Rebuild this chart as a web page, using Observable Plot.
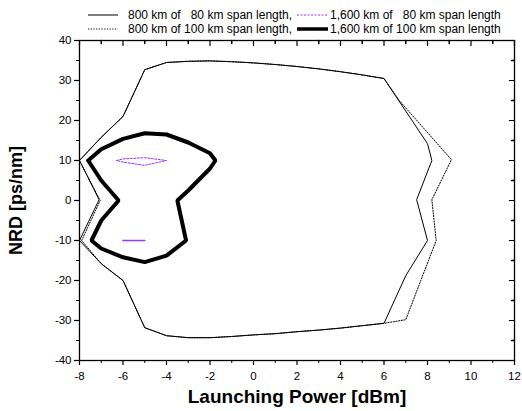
<!DOCTYPE html>
<html>
<head>
<meta charset="utf-8">
<script src="https://cdn.jsdelivr.net/npm/d3@7"></script>
<script src="https://cdn.jsdelivr.net/npm/@observablehq/plot@0.6"></script>
<style>
  html, body { margin: 0; padding: 0; background: #fff; }
  body { width: 522px; height: 411px; overflow: hidden; font-family: "Liberation Sans", Arial, sans-serif; }
  #legend { position: relative; width: 522px; height: 32px; font-size: 12px; color: #000; }
  .item { position: absolute; display: flex; align-items: center; white-space: pre; line-height: 14px; }
</style>
</head>
<body>
<div id="legend"></div>
<div id="chart"></div>
<script>
// ---- data ----
// 800 km of 80 km span length (thin solid)
const s800_80_x = [-8, -7, -6, -5, -4, -3, -2, -1, 0, 1, 2, 3, 4, 5, 6, 8, 8.2, 7.5, 8, 7, 6, 5, 4, 3, 2, 1, 0, -1, -2, -3, -4, -5, -6, -7, -8, -7.1, -8];
const s800_80_y = [10, 15.8, 21, 32.7, 34.5, 34.8, 34.9, 34.7, 34.4, 34, 33.5, 32.9, 32.2, 31.4, 30.5, 14.2, 10, 0.2, -10, -18.8, -30.7, -31.3, -31.9, -32.4, -32.8, -33.3, -33.6, -34, -34.3, -34.3, -33.8, -31.8, -20, -15.8, -10, 0.2, 10];
// 800 km of 100 km span length (thin dotted)
const s800_100_x = [-8, -7, -6, -5, -4, -3, -2, -1, 0, 1, 2, 3, 4, 5, 6, 6.7, 9.1, 8.2, 8.4, 7, 6, 5, 4, 3, 2, 1, 0, -1, -2, -3, -4, -5, -6, -7, -7.9, -7.05, -8];
const s800_100_y = [10, 15.8, 21, 32.7, 34.5, 34.8, 34.9, 34.7, 34.4, 34, 33.5, 32.9, 32.2, 31.4, 30.5, 25, 10.2, 0.2, -10, -29.8, -30.7, -31.3, -31.9, -32.4, -32.8, -33.3, -33.6, -34, -34.3, -34.3, -33.8, -31.8, -20, -15.8, -10, 0, 10];
// 1,600 km of 80 km span length (purple dashed) - two small islands
const s1600_80a_x = [-6.3, -6, -5, -4, -5, -6, -6.3];
const s1600_80a_y = [10, 10.4, 10.7, 10, 8.8, 9.6, 10];
const s1600_80b_x = [-6, -5.5, -5];
const s1600_80b_y = [-10, -10, -10];
// 1,600 km of 100 km span length (thick solid)
const s1600_100_x = [-7.6, -7, -6, -5, -4, -3, -2, -1.75, -2, -3, -3.5, -3.1, -4, -5, -6, -7, -7.45, -7, -6.2, -7, -7.6];
const s1600_100_y = [10, 12.8, 15.4, 16.8, 16.5, 14.5, 11.8, 10, 8, 2.5, 0, -10, -13.8, -15.4, -14.2, -12, -10, -5, 0, 5, 10];

const xMajor = [-8, -6, -4, -2, 0, 2, 4, 6, 8, 10, 12];
const xMinor = [-7, -5, -3, -1, 1, 3, 5, 7, 9, 11];
const yMajor = [-40, -30, -20, -10, 0, 10, 20, 30, 40];
const yMinor = [-35, -25, -15, -5, 5, 15, 25, 35];

const legendLabels = [
  "800 km of   80 km span length,",
  "800 km of 100 km span length,",
  "1,600 km of   80 km span length",
  "1,600 km of 100 km span length"
];
const xLabel = "Launching Power [dBm]";
const yLabel = "NRD [ps/nm]";

// ---- build tables ----
const zip = (xs, ys, g) => xs.map((x, i) => ({x, y: ys[i], g}));
const solid80 = zip(s800_80_x, s800_80_y, "a");
const dotted100 = zip(s800_100_x, s800_100_y, "b");
const purpleA = zip(s1600_80a_x, s1600_80a_y, "c1");
const purpleB = zip(s1600_80b_x, s1600_80b_y, "c2");
const thick100 = zip(s1600_100_x, s1600_100_y, "d");

const purple = "#9933ff";
const styles = [
  {stroke: "#000", width: 1, dash: null},
  {stroke: "#000", width: 1, dash: "1.2,1.5"},
  {stroke: purple, width: 1, dash: "2,1.5"},
  {stroke: "#000", width: 3.5, dash: null}
];

// ---- legend (HTML, above the SVG) ----
const legend = document.getElementById("legend");
const legendPos = [[88, 8], [88, 22], [297, 8], [297, 22]];
const sampleW = [30, 30, 31, 31];
legendLabels.forEach((lab, i) => {
  const div = document.createElement("div");
  div.className = "item";
  div.style.left = legendPos[i][0] + "px";
  div.style.top = legendPos[i][1] + "px";
  const st = styles[i];
  const w = sampleW[i];
  div.innerHTML = `<svg width="${w}" height="8" style="margin-right:${i < 2 ? 10 : 2}px"><line x1="0" x2="${w}" y1="4" y2="4" stroke="${st.stroke}" stroke-width="${st.width}" ${st.dash ? `stroke-dasharray="${st.dash}"` : ""} stroke-linecap="${i===3?'round':'butt'}"/></svg>`;
  const span = document.createElement("span");
  span.textContent = lab;
  div.appendChild(span);
  legend.appendChild(div);
});

// ---- chart ----
const tickShape = {draw(context, l) { context.moveTo(0, 0); context.lineTo(0, -l); }};

const chart = Plot.plot({
  width: 522,
  height: 379,
  marginTop: 8,
  marginLeft: 79,
  marginRight: 8,
  marginBottom: 51,
  style: {fontFamily: "'Liberation Sans', Arial, sans-serif", fontSize: "11.5px", color: "#000", background: "#fff"},
  x: {domain: [-8, 12]},
  y: {domain: [-40, 40]},
  marks: [
    Plot.line(dotted100, {x: "x", y: "y", stroke: "#000", strokeWidth: 1, strokeDasharray: "1.2,1.5"}),
    Plot.line(solid80, {x: "x", y: "y", stroke: "#000", strokeWidth: 1}),
    Plot.line(purpleA, {x: "x", y: "y", stroke: purple, strokeWidth: 1, strokeDasharray: "2,1.5"}),
    Plot.line(purpleB, {x: "x", y: "y", stroke: purple, strokeWidth: 1.6, strokeDasharray: "2,1"}),
    Plot.line(thick100, {x: "x", y: "y", stroke: "#000", strokeWidth: 4, strokeLinejoin: "miter"}),
    Plot.frame({stroke: "#000", strokeWidth: 1.3}),
    Plot.axisX({ticks: xMajor, tickSize: 5, tickPadding: 6, tickFormat: d => String(d), label: null, stroke: "#000", strokeWidth: 1.2}),
    Plot.axisX({ticks: xMinor, tickSize: 3, tickFormat: () => "", label: null, stroke: "#000"}),
    Plot.axisY({ticks: yMajor, tickSize: 5, tickPadding: 3, tickFormat: d => String(d), label: null, stroke: "#000", strokeWidth: 1.2}),
    Plot.axisY({ticks: yMinor, tickSize: 3, tickFormat: () => "", label: null, stroke: "#000"}),
    Plot.vector(xMajor, {x: d => d, frameAnchor: "top", length: 5, rotate: 180, anchor: "start", shape: tickShape, stroke: "#000", strokeWidth: 1.2}),
    Plot.vector(xMinor, {x: d => d, frameAnchor: "top", length: 3, rotate: 180, anchor: "start", shape: tickShape, stroke: "#000"}),
    Plot.vector(yMajor, {y: d => d, frameAnchor: "right", length: 5, rotate: -90, anchor: "start", shape: tickShape, stroke: "#000", strokeWidth: 1.2}),
    Plot.vector(yMinor, {y: d => d, frameAnchor: "right", length: 3, rotate: -90, anchor: "start", shape: tickShape, stroke: "#000"}),
    Plot.text([xLabel], {text: d => d, frameAnchor: "bottom", dy: 42, fontSize: 19, fontWeight: "bold"}),
    Plot.text([yLabel], {text: d => d, frameAnchor: "left", textAnchor: "middle", dx: -63, rotate: -90, fontSize: 18, fontWeight: "bold"})
  ]
});
document.getElementById("chart").appendChild(chart);
</script>
</body>
</html>
